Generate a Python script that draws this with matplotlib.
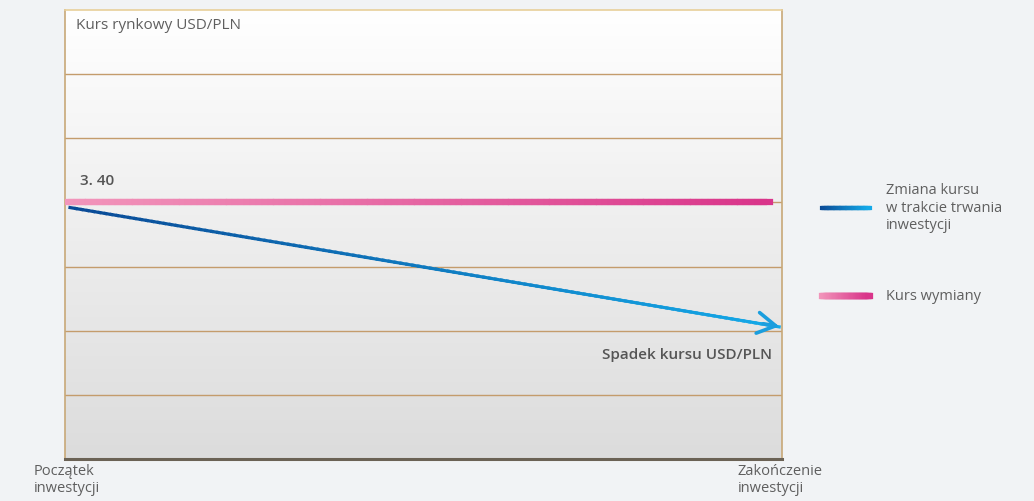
import numpy as np
import matplotlib
matplotlib.use("Agg")
import matplotlib.pyplot as plt
from matplotlib.collections import LineCollection
from matplotlib.colors import LinearSegmentedColormap

plt.rcParams['font.family'] = ['Open Sans', 'DejaVu Sans']

# ---- data ----
x_labels = ["Początek\ninwestycji", "Zakończenie\ninwestycji"]
time_pos = [0.0, 1.0]
exchange_rate = [3.40, 3.40]          # Kurs wymiany (flat)
market_rate = [3.392, 3.206]          # Zmiana kursu w trakcie trwania inwestycji
rate_label = "3. 40"
grid_levels = [3.00, 3.10, 3.20, 3.30, 3.40, 3.50, 3.60, 3.70]
legend_labels = ["Zmiana kursu\nw trakcie trwania\ninwestycji", "Kurs wymiany"]

BG = "#f1f3f5"
TXT = "#5f5f5f"
blue_cmap = LinearSegmentedColormap.from_list("b", ["#0a4a96", "#14a9e8"])
pink_cmap = LinearSegmentedColormap.from_list("p", ["#f296bb", "#d9358a"])

fig = plt.figure(figsize=(10.34, 5.01), dpi=100, facecolor=BG)
ax = fig.add_axes([65/1034, 42/501, 717/1034, 449/501])
ax.set_xlim(0, 1)
ax.set_ylim(grid_levels[0], grid_levels[-1])

# background gradient
grad = np.linspace(0, 1, 256).reshape(-1, 1)
bg_cmap = LinearSegmentedColormap.from_list("bg", ["#dcdcdc", "#ffffff"])
ax.imshow(grad, extent=[0, 1, grid_levels[0], grid_levels[-1]], aspect='auto',
          cmap=bg_cmap, zorder=0, origin='lower')

# grid lines
for g in grid_levels[1:-1]:
    ax.axhline(g, color="#c49c6c", lw=1.0, zorder=1)

for s in ['left', 'right']:
    ax.spines[s].set_color("#c8a878")
    ax.spines[s].set_linewidth(1.2)
ax.spines['top'].set_color("#e8cf9a")
ax.spines['top'].set_linewidth(1.2)
ax.spines['bottom'].set_color("#6b6255")
ax.spines['bottom'].set_linewidth(2.2)
ax.set_xticks([])
ax.set_yticks([])


def gradient_line(container, x0, x1, y0, y1, cmap, lw, transform=None, n=200, z=3):
    t = np.linspace(0, 1, n + 1)
    xs = x0 + (x1 - x0) * t
    ys = y0 + (y1 - y0) * t
    pts = np.column_stack([xs, ys]).reshape(-1, 1, 2)
    segs = np.concatenate([pts[:-1], pts[1:]], axis=1)
    lc = LineCollection(segs, cmap=cmap, linewidths=lw, capstyle='projecting',
                        joinstyle='miter', zorder=z, antialiased=True)
    lc.set_array(t[:-1])
    if transform is not None:
        lc.set_transform(transform)
        container.add_artist(lc)
    else:
        container.add_collection(lc)
    return lc

# pink exchange-rate line
pink_end = 0.983
gradient_line(ax, time_pos[0], pink_end, exchange_rate[0], exchange_rate[1], pink_cmap, 4.5, n=120)

# blue market line
blue_start = 0.007
gradient_line(ax, blue_start, time_pos[1] - 0.004, market_rate[0], market_rate[1], blue_cmap, 2.3,
              z=4, n=120)
ax.annotate("", xy=(time_pos[1], market_rate[1]),
            xytext=(time_pos[1] - 0.03, market_rate[1] + (market_rate[0] - market_rate[1]) * 0.03),
            arrowprops=dict(arrowstyle="->,head_length=1.3,head_width=0.75",
                            color="#1a9ede", lw=2.6, capstyle='round', joinstyle='round'),
            zorder=5, annotation_clip=False)

# texts
ax.text(0.015, 0.965, "Kurs rynkowy USD/PLN", transform=ax.transAxes,
        fontsize=11, color=TXT, va='center', ha='left')
ax.text(0.021, exchange_rate[0] + 0.033, rate_label, fontsize=11, color="#555555",
        fontweight='semibold', va='center', ha='left')
ax.text(0.986, 1 - (355 - 10) / 449, "Spadek kursu USD/PLN", transform=ax.transAxes,
        fontsize=11, color="#555555", fontweight='semibold', va='center', ha='right')

fig.text(34/1034, 1 - 480/501, x_labels[0], fontsize=10.5, color=TXT,
         va='center', ha='left', linespacing=1.25)
fig.text(738/1034, 1 - 480/501, x_labels[1], fontsize=10.5, color=TXT,
         va='center', ha='left', linespacing=1.25)

# legend
gradient_line(fig, 822/1034, 870/1034, 1 - 208/501, 1 - 208/501, blue_cmap, 3,
              transform=fig.transFigure, n=40)
gradient_line(fig, 822/1034, 870/1034, 1 - 296/501, 1 - 296/501, pink_cmap, 4.5,
              transform=fig.transFigure, n=40)
fig.text(886/1034, 1 - 208/501, legend_labels[0], fontsize=10.5, color=TXT,
         va='center', ha='left', linespacing=1.25)
fig.text(886/1034, 1 - 296/501, legend_labels[1], fontsize=10.5, color=TXT,
         va='center', ha='left')

fig.savefig("out.png", dpi=100, facecolor=BG)
